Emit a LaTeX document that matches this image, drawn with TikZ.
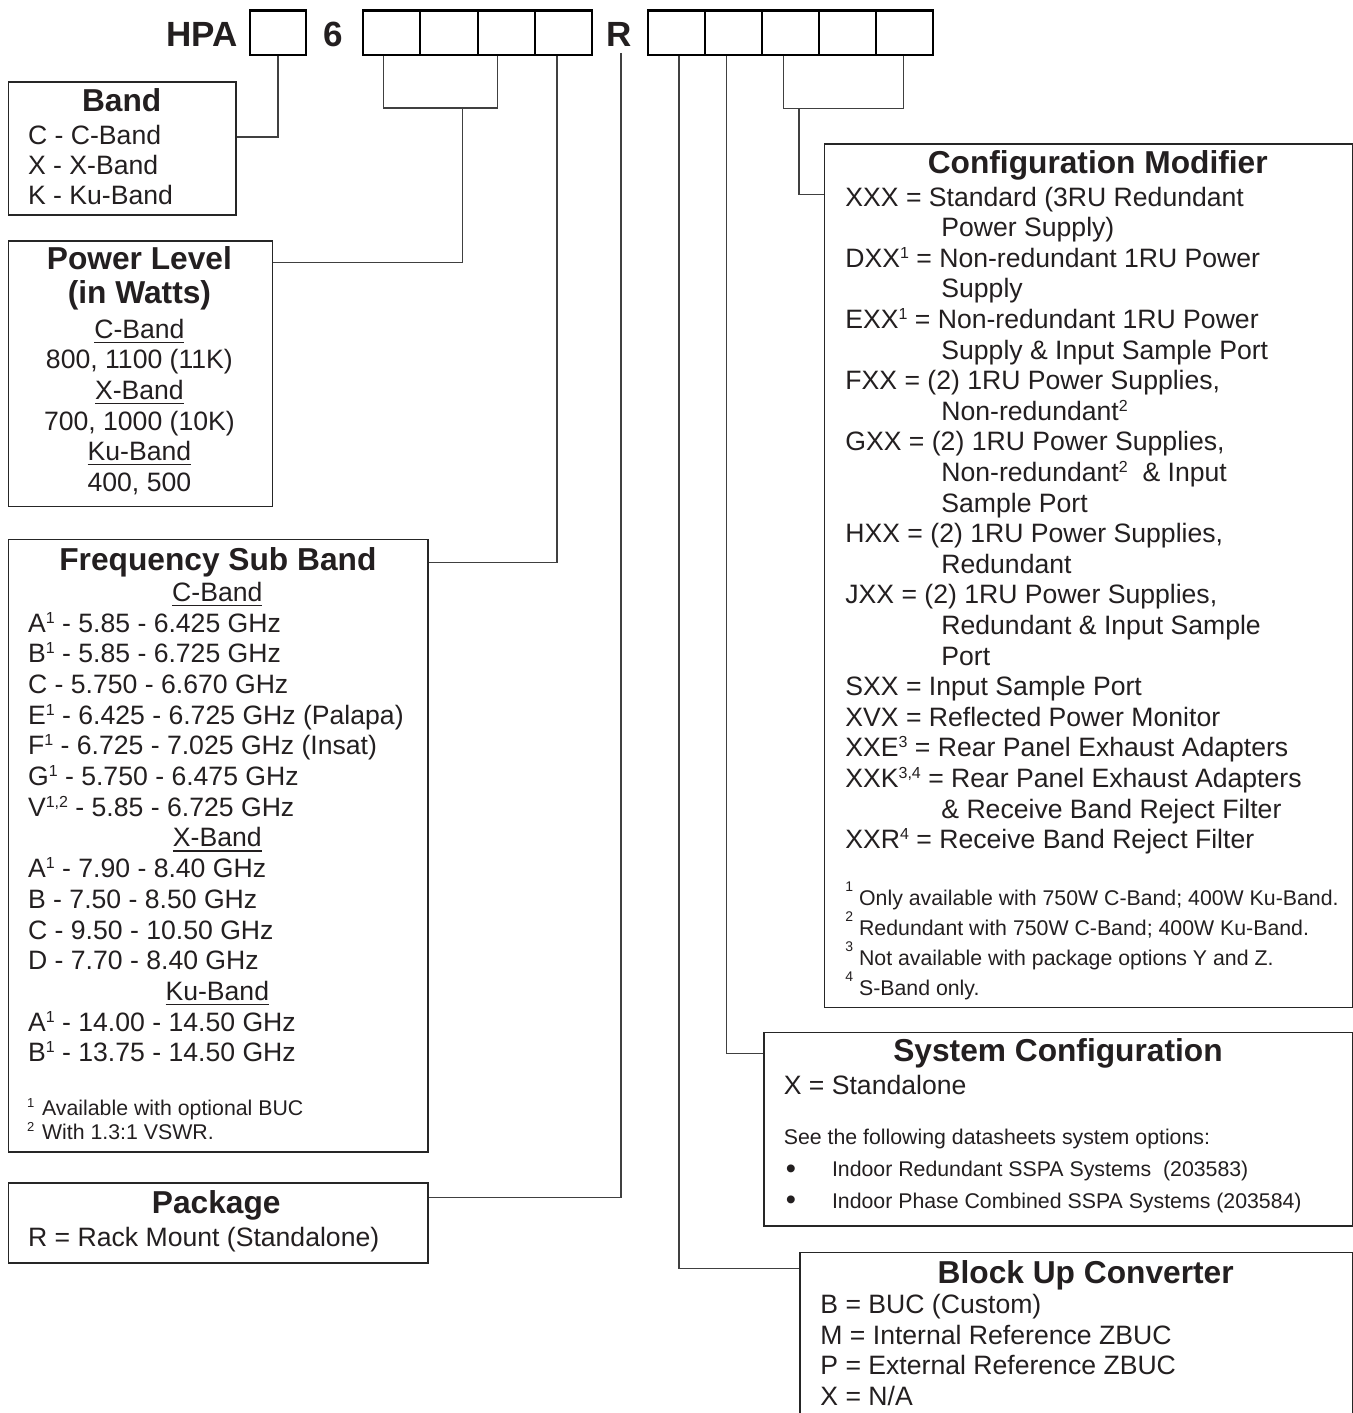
\documentclass[tikz,border=0pt]{standalone}
\usepackage{fontspec}
\setmainfont{Liberation Sans}
\definecolor{ink}{HTML}{231F20}
\newcommand\bigf{\fontsize{17.5}{20}\selectfont\bfseries}
\newcommand\ttlf{\fontsize{15.85}{18}\selectfont\bfseries}
\newcommand\bodyf{\fontsize{13.3}{15}\selectfont}
\newcommand\smallf{\fontsize{10.65}{12}\selectfont}
\newcommand\sups[1]{\raisebox{4.5pt}{\fontsize{8}{8}\selectfont #1}}
\newcommand\fsup[1]{\raisebox{6.6pt}{\fontsize{7}{7}\selectfont #1}}
\newcommand\qsup[1]{\raisebox{3.6pt}{\fontsize{6.5}{7}\selectfont #1}}
\newsavebox{\ulbox}
\newcommand\ulx[1]{\sbox\ulbox{#1}\rlap{\rule[-2.3pt]{\wd\ulbox}{0.7pt}}\usebox\ulbox}
\newcommand\mybox[5]{\node[boxst, minimum width=#4pt, minimum height=#5pt] (#1) at (#2,#3) {};}
\tikzset{
  boxst/.style={draw=black!85, line width=0.8pt, inner sep=0pt, anchor=north west},
  topbox/.style={draw=black, line width=1.1pt, inner sep=0pt, minimum height=22.25pt, anchor=north west},
  conn/.style={draw=black!75, line width=0.65pt},
  bigl/.style={font=\bigf, text=ink, anchor=base, inner sep=0pt},
  ttl/.style={font=\ttlf, text=ink, anchor=base, inner sep=0pt},
  txt/.style={font=\bodyf, text=ink, anchor=base west, inner sep=0pt},
  ctxt/.style={font=\bodyf, text=ink, anchor=base, inner sep=0pt},
  small/.style={font=\smallf, text=ink, anchor=base west, inner sep=0pt},
  bul/.style={font=\fontsize{14.5}{15}\selectfont, text=ink, anchor=base west, inner sep=0pt},
}
\begin{document}
\begin{tikzpicture}[x=0.5pt,y=-0.5pt]
\useasboundingbox (0,0) rectangle (1353,1413);
\clip (0,0) rectangle (1353,1413);
\fill[white] (0,0) rectangle (1353,1413);

% ---- top code row
\node[bigl] (hpa) at (201.7,46.7) {HPA};
\node[bigl] (six) at (333,46.7) {6};
\node[bigl] (rr) at (619,46.7) {R};
\node[topbox, minimum width=28pt] (t1) at (249,9.5) {};
\node[topbox, minimum width=28.625pt] (t2) at (362,9.5) {};
\node[topbox, minimum width=28.625pt] (t3) at (419.25,9.5) {};
\node[topbox, minimum width=28.625pt] (t4) at (476.5,9.5) {};
\node[topbox, minimum width=28.625pt] (t5) at (533.75,9.5) {};
\node[topbox, minimum width=28.5pt] (t6) at (647,9.5) {};
\node[topbox, minimum width=28.5pt] (t7) at (704,9.5) {};
\node[topbox, minimum width=28.5pt] (t8) at (761,9.5) {};
\node[topbox, minimum width=28.5pt] (t9) at (818,9.5) {};
\node[topbox, minimum width=28.5pt] (t10) at (875,9.5) {};

% ---- boxes
\mybox{band}{7.7}{81}{113.85}{66.5}
\mybox{power}{7.7}{240}{131.9}{132.85}
\mybox{freq}{7.5}{538.5}{209.75}{306.25}
\mybox{pkg}{7.5}{1182}{209.75}{40}
\mybox{cfg}{823.5}{143.5}{264}{431.5}
\mybox{sys}{763}{1031.7}{294.5}{96.65}
\mybox{buc}{799.3}{1251.7}{276.35}{100}

% ---- connectors
\coordinate (rb) at (621,53);
\draw[conn] (t1.south) |- (band.east |- 0,137);
\draw[conn] (t2.south -| 383.5,0) |- (497.7,108) -- (t4.south -| 497.7,0);
\draw[conn] (462.3,108) |- (power.east |- 0,262.3);
\draw[conn] (t5.south -| 557,0) |- (freq.east |- 0,562.5);
\draw[conn] (rb) |- (pkg.east |- 0,1197.3);
\draw[conn] (t6.south -| 679,0) |- (buc.west |- 0,1268.3);
\draw[conn] (t7.south -| 726.7,0) |- (sys.west |- 0,1053.3);
\draw[conn] (t8.south -| 783.7,0) |- (903.3,108.3) -- (t10.south -| 903.3,0);
\draw[conn] (799,108.3) |- (cfg.west |- 0,194.5);

% ---- Band
\node[ttl] (bandt) at (121.7,111.7) {Band};
\node[txt] (band1) at (27.7,144) {C - C-Band};
\node[txt] (band2) at (27.7,174) {X - X-Band};
\node[txt] (band3) at (27.7,204.3) {K - Ku-Band};

% ---- Power level
\node[ttl] (pwt1) at (139.4,269.3) {Power Level};
\node[ttl] (pwt2) at (139.4,303.5) {(in Watts)};
\node[ctxt] (pw1) at (139.4,338.3) {\ulx{C-Band}};
\node[ctxt] (pw2) at (139.4,368.3) {800, 1100 (11K)};
\node[ctxt] (pw3) at (139.4,399.5) {\ulx{X-Band}};
\node[ctxt] (pw4) at (139.4,430) {700, 1000 (10K)};
\node[ctxt] (pw5) at (139.4,460.7) {\ulx{Ku-Band}};
\node[ctxt] (pw6) at (139.4,491.7) {400, 500};

% ---- Frequency sub band
\node[ttl] (fqt) at (217.9,570) {Frequency Sub Band};
\node[ctxt] (fq0) at (217.3,601.3) {\ulx{C-Band}};
\node[txt] (fq1) at (27.7,632) {A\sups{1} - 5.85 - 6.425 GHz};
\node[txt] (fq2) at (27.7,662.7) {B\sups{1} - 5.85 - 6.725 GHz};
\node[txt] (fq3) at (27.7,693.4) {C - 5.750 - 6.670 GHz};
\node[txt] (fq4) at (27.7,724.1) {E\sups{1} - 6.425 - 6.725 GHz (Palapa)};
\node[txt] (fq5) at (27.7,754.8) {F\sups{1} - 6.725 - 7.025 GHz (Insat)};
\node[txt] (fq6) at (27.7,785.5) {G\sups{1} - 5.750 - 6.475 GHz};
\node[txt] (fq7) at (27.7,816.2) {V\sups{1,2} - 5.85 - 6.725 GHz};
\node[ctxt] (fq8) at (217.3,846.9) {\ulx{X-Band}};
\node[txt] (fq9) at (27.7,877.6) {A\sups{1} - 7.90 - 8.40 GHz};
\node[txt] (fq10) at (27.7,908.3) {B - 7.50 - 8.50 GHz};
\node[txt] (fq11) at (27.7,939) {C - 9.50 - 10.50 GHz};
\node[txt] (fq12) at (27.7,969.7) {D - 7.70 - 8.40 GHz};
\node[ctxt] (fq13) at (217.3,1000.4) {\ulx{Ku-Band}};
\node[txt] (fq14) at (27.7,1031.1) {A\sups{1} - 14.00 - 14.50 GHz};
\node[txt] (fq15) at (27.7,1061.8) {B\sups{1} - 13.75 - 14.50 GHz};
\node[small] (fqn1) at (26.7,1115) {\qsup{1}\hspace{3.9pt}Available with optional BUC};
\node[small] (fqn2) at (26.7,1139) {\qsup{2}\hspace{3.9pt}With 1.3:1 VSWR.};

% ---- Package
\node[ttl] (pkgt) at (216.3,1213) {Package};
\node[txt] (pkg1) at (27.7,1246) {R = Rack Mount (Standalone)};

% ---- Configuration modifier
\node[ttl] (cfgt) at (1097.7,173.8) {Configuration Modifier};
\node[txt] (c0) at (845,206) {XXX = Standard (3RU Redundant};
\node[txt] (c1) at (941,236.6) {Power Supply)};
\node[txt] (c2) at (845,267.2) {DXX\sups{1} = Non-redundant 1RU Power};
\node[txt] (c3) at (941,297.8) {Supply};
\node[txt] (c4) at (845,328.4) {EXX\sups{1} = Non-redundant 1RU Power};
\node[txt] (c5) at (941,359) {Supply \& Input Sample Port};
\node[txt] (c6) at (845,389.6) {FXX = (2) 1RU Power Supplies,};
\node[txt] (c7) at (941,420.2) {Non-redundant\sups{2}};
\node[txt] (c8) at (845,450.8) {GXX = (2) 1RU Power Supplies,};
\node[txt] (c9) at (941,481.4) {Non-redundant\sups{2}\ \ \& Input};
\node[txt] (c10) at (941,512) {Sample Port};
\node[txt] (c11) at (845,542.6) {HXX = (2) 1RU Power Supplies,};
\node[txt] (c12) at (941,573.2) {Redundant};
\node[txt] (c13) at (845,603.8) {JXX = (2) 1RU Power Supplies,};
\node[txt] (c14) at (941,634.4) {Redundant \& Input Sample};
\node[txt] (c15) at (941,665) {Port};
\node[txt] (c16) at (845,695.6) {SXX = Input Sample Port};
\node[txt] (c17) at (845,726.2) {XVX = Reflected Power Monitor};
\node[txt] (c18) at (845,756.8) {XXE\sups{3} = Rear Panel Exhaust Adapters};
\node[txt] (c19) at (845,787.4) {XXK\sups{3,4} = Rear Panel Exhaust Adapters};
\node[txt] (c20) at (941,818) {\& Receive Band Reject Filter};
\node[txt] (c21) at (845,848.6) {XXR\sups{4} = Receive Band Reject Filter};
\node[small] (cn1) at (845,905) {\fsup{1} Only available with 750W C-Band; 400W Ku-Band.};
\node[small] (cn2) at (845,935) {\fsup{2} Redundant with 750W C-Band; 400W Ku-Band.};
\node[small] (cn3) at (845,965) {\fsup{3} Not available with package options Y and Z.};
\node[small] (cn4) at (845,995) {\fsup{4} S-Band only.};

% ---- System configuration
\node[ttl] (syst) at (1058,1061.7) {System Configuration};
\node[txt] (sys1) at (783.4,1094) {X = Standalone};
\node[small] (sys2) at (783.4,1144) {See the following datasheets system options:};
\node[bul] (sysb1) at (785.5,1178) {•};
\node[small] (sys3) at (831.6,1176.7) {Indoor Redundant SSPA Systems\ \ (203583)};
\node[bul] (sysb2) at (785.5,1209.3) {•};
\node[small] (sys4) at (831.6,1208) {Indoor Phase Combined SSPA Systems (203584)};

% ---- Block up converter
\node[ttl] (buct) at (1085.7,1283.3) {Block Up Converter};
\node[txt] (buc1) at (820,1313) {B = BUC (Custom)};
\node[txt] (buc2) at (820,1344) {M = Internal Reference ZBUC};
\node[txt] (buc3) at (820,1374) {P = External Reference ZBUC};
\node[txt] (buc4) at (820,1405) {X = N/A};
\end{tikzpicture}
\end{document}
